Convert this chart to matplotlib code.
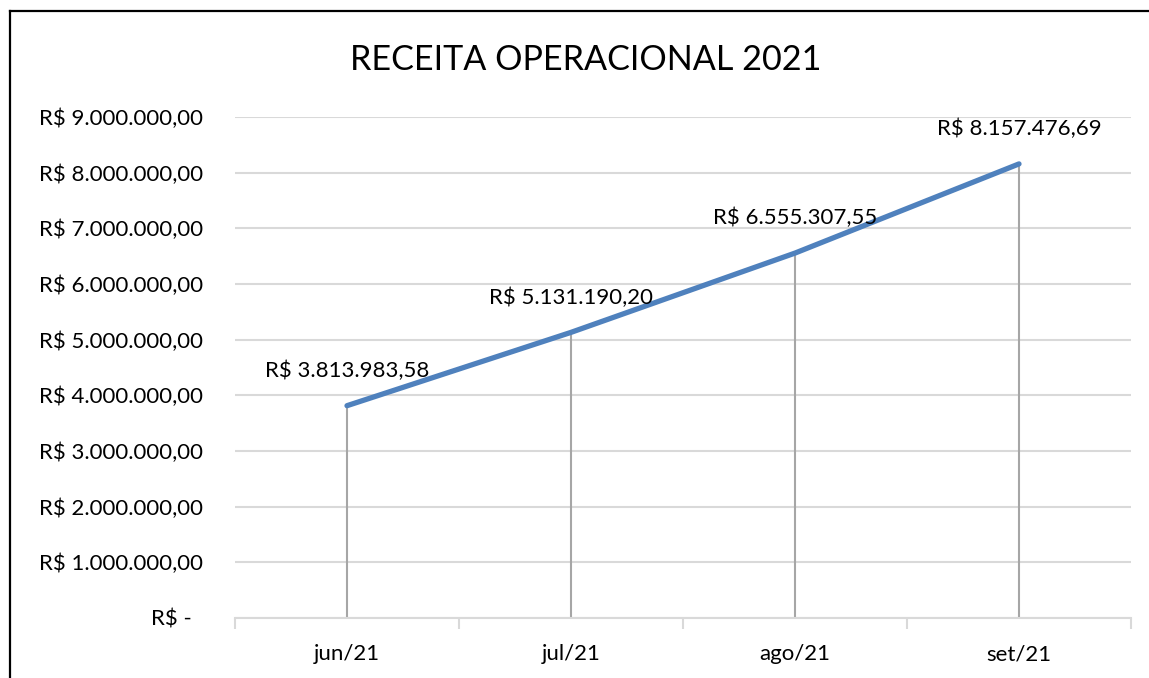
# receita_operacional_2021.py
# Line chart of operating revenue per month, Excel-style look.

import matplotlib
matplotlib.use("Agg")
import matplotlib.pyplot as plt
from matplotlib.ticker import FuncFormatter, FixedLocator
from matplotlib.lines import Line2D

# ---- Data ----
months = ["jun/21", "jul/21", "ago/21", "set/21"]
revenue = [3813983.58, 5131190.20, 6555307.55, 8157476.69]
TITLE = "RECEITA OPERACIONAL 2021"
# --------------

FONT = ["Lato", "DejaVu Sans"]
LINE_COLOR = "#4F81BD"
GRID_COLOR = "#D9D9D9"
DROP_COLOR = "#A6A6A6"
TICK_FS = 16


def brl(v):
    s = f"{v:,.2f}"
    return "R$ " + s.replace(",", "X").replace(".", ",").replace("X", ".")


def axis_fmt(v, pos):
    if abs(v) < 0.5:
        return "R$ -  "
    return brl(v)


plt.rcParams["font.family"] = FONT

fig = plt.figure(figsize=(11.49, 6.78), dpi=100)
ax = fig.add_axes([235 / 1149, 1 - 618 / 678, 896 / 1149, 501 / 678])

x = list(range(len(months)))

# drop lines from each point down to the axis
ax.vlines(x, 0, revenue, color=DROP_COLOR, linewidth=1.5, zorder=2)
ax.plot(x, revenue, color=LINE_COLOR, linewidth=3.8,
        solid_capstyle="round", zorder=3)

for xi, v in zip(x, revenue):
    ax.annotate(brl(v), (xi, v), xytext=(0, 25), textcoords="offset points",
                ha="center", va="center", fontsize=TICK_FS, color="black")

ax.set_xlim(-0.5, len(months) - 0.5)
ax.set_ylim(0, 9000000)
ax.yaxis.set_major_locator(FixedLocator([i * 1000000 for i in range(10)]))
ax.yaxis.set_major_formatter(FuncFormatter(axis_fmt))
ax.tick_params(axis="y", length=0, pad=23, labelsize=TICK_FS)

ax.set_xticks(x)
ax.set_xticklabels(months)
ax.set_xticks([i - 0.5 for i in range(len(months) + 1)], minor=True)
ax.tick_params(axis="x", which="major", length=0, pad=19, labelsize=TICK_FS)
ax.tick_params(axis="x", which="minor", length=8, width=1.5, color=GRID_COLOR)

ax.grid(axis="y", color=GRID_COLOR, linewidth=1.5, zorder=0)
ax.set_axisbelow(True)
for side in ["left", "right", "top"]:
    ax.spines[side].set_visible(False)
ax.spines["bottom"].set_color(GRID_COLOR)
ax.spines["bottom"].set_linewidth(1.5)

fig.text(586 / 1149, 1 - 60 / 678, TITLE, ha="center", va="center",
         fontsize=24.6, color="black")

# outer chart border (cut off at right and bottom)
fig.add_artist(Line2D([10 / 1149, 10 / 1149], [0, 1 - 11 / 678],
                      transform=fig.transFigure, color="black", linewidth=1.6))
fig.add_artist(Line2D([10 / 1149, 1], [1 - 11 / 678, 1 - 11 / 678],
                      transform=fig.transFigure, color="black", linewidth=1.6))

fig.savefig("out.png", dpi=100)
